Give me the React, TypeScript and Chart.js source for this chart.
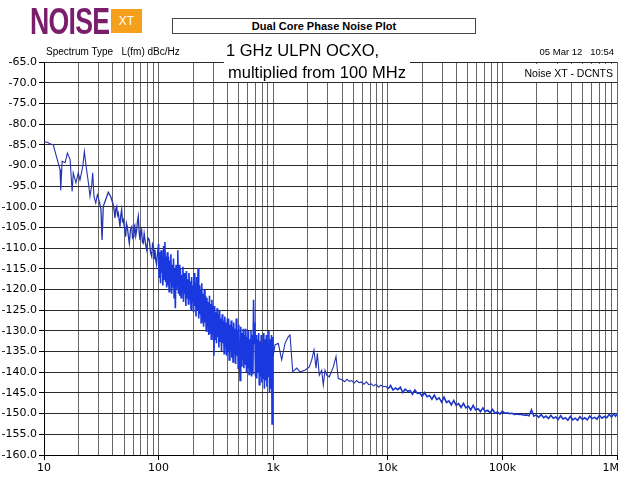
import React, { useEffect, useRef } from 'react';
import { Chart, registerables } from 'chart.js';

Chart.register(...registerables);

// ---- data (offset frequency in Hz, phase noise in dBc/Hz) ----
const lowFreq = [10, 10.7, 11.4, 12.05, 12.7, 13.3, 13.8, 14.0, 14.4, 15.3, 16.0, 16.9, 17.6, 18.0, 19.0, 19.9, 20.6, 21.8, 22.5, 23.3, 24.4, 25.2, 26.1, 26.6, 27.3, 28.3, 29.2, 30.4, 31.4, 32.1, 32.9, 34.5, 36.4, 38.2, 40.2, 41, 41.6, 42.3, 43.1, 43.8, 44.5, 45.2, 46.0, 46.8, 47.6, 48.4, 49.2, 50.3, 51.6, 52.4, 53.3, 54.4, 55.5, 56.8, 58.3, 59.2, 60.1, 61, 62, 63.2, 64.4, 65.4, 66.5, 67.6, 68.8, 70, 71, 72.2, 73.5, 74.8, 76, 77.3, 78.7, 80.8, 83.0, 85, 87.1, 88.5, 90, 91.5, 93, 94.5, 96, 98];
const lowPn = [-84.3, -84.4, -84.8, -85.0, -87.4, -89.4, -91.0, -96.0, -89.0, -89.3, -87.0, -88.6, -96.3, -91.8, -94.2, -91.8, -93.5, -90.2, -86.6, -90.2, -94.2, -97.5, -94.7, -91.8, -97.5, -99.1, -97.1, -98.7, -100.7, -108.0, -99.9, -98.3, -96.5, -97.5, -99.5, -101, -102.7, -100.5, -99.9, -102, -101.5, -103, -104.8, -102, -100.7, -103.5, -103.1, -105, -107.2, -104, -104.8, -107, -108.8, -105.5, -104.8, -107.5, -107.2, -105, -104.5, -107, -105.6, -103.5, -102.3, -106, -108, -106, -105.5, -108.5, -108.8, -106.5, -106.5, -109.5, -110.4, -107.5, -108, -111, -112, -109, -109.5, -112.5, -110.4, -113, -114, -111];

const denseFreq = [100, 101, 102.5, 104, 105, 106.5, 108, 109, 110.5, 112, 113.5, 115, 116, 117.5, 119,
  120.5, 122, 123.5, 125, 126.5, 128, 130, 131.5, 133, 135, 136.5, 138, 140, 142, 143.5, 145, 147, 149,
  151, 153, 155, 157, 159, 161, 163, 165, 167, 169, 171, 173, 175, 177, 180, 182, 184, 187, 189, 192, 194, 197, 199,
  202, 204, 207, 210, 212, 215, 218, 221, 224, 226, 229, 232, 235, 238, 241, 244, 247, 251,
  254, 257, 260, 264, 267, 270, 274, 278, 281, 285, 288, 292, 296, 300,
  304, 308, 312, 316, 320, 324, 328, 332, 336, 341, 345, 350, 354, 359, 363, 368, 373, 378, 383, 388, 393, 398,
  403, 408, 413, 419, 424, 430, 435, 441, 446, 452, 458, 464, 470, 476, 482, 489, 495, 501,
  508, 514, 521, 528, 534, 541, 548, 555, 562, 570, 577, 585, 592, 600, 608, 616, 624, 632, 640, 648, 657, 665, 674, 682, 691, 700,
  709, 718, 728, 737, 747, 756, 766, 776, 786, 796, 807, 817, 828, 838, 849, 860, 871, 882, 894, 905, 917, 929, 941, 953, 966, 978, 990, 1000];
const densePn = [-109, -117, -111, -118.5, -110.5, -116, -112, -119, -109.5, -117.5, -108.5, -118, -112, -119.5, -111,
  -119, -112, -120.5, -113, -118, -111.5, -121, -114, -119.5, -112.5, -122, -115, -124.5, -114, -120, -116, -110.5, -121,
  -114, -121.5, -115, -122, -116.5, -120.5, -114.5, -123, -116, -121, -117, -124, -115.5, -122, -117.5, -123.5, -116, -122.5, -118, -125, -117, -123, -119,
  -125.5, -116, -124, -118.5, -126.5, -117, -125, -114.8, -127, -119, -126, -120, -128, -118.5, -127.5, -121, -129, -120,
  -128, -121.5, -130, -122, -129, -123, -131, -121.5, -130.5, -123.5, -132, -122.5, -131, -124,
  -136, -124, -132, -125.5, -133, -124.5, -131.5, -126, -134, -125, -132.5, -127, -135, -126, -133, -127.5, -135.5, -126.5, -134, -128, -136, -127,
  -135, -127, -137, -128.5, -134.5, -127.5, -136.5, -129, -137.5, -128, -135.5, -129.5, -138, -127, -136, -130, -139, -128.5,
  -137, -142, -129, -138.5, -130.5, -137, -129.5, -139, -131, -138, -129.5, -140, -131.5, -139, -130, -140.5, -132, -139.5, -130, -141, -131, -140.5, -122.5, -133, -128, -141,
  -131, -141.5, -132, -140, -130.5, -143, -132.5, -141, -131, -142.5, -133, -141.5, -130.5, -144, -132, -142, -131, -143.5, -133, -141, -130, -145, -132, -144, -131, -152.5, -131.5, -136];

const midFreq = [1037, 1108, 1186, 1268, 1355, 1402, 1480, 1604, 1713, 1894, 2065, 2168, 2270, 2363, 2426, 2525, 2650, 2736, 2831, 2930, 3087, 3345, 3532, 3698];
const midPn = [-133.4, -133.0, -137.0, -133.0, -131.4, -131.0, -139.9, -139.0, -139.9, -139.5, -138.7, -137.0, -134.6, -139.0, -135.4, -140.7, -139.5, -143.1, -139.5, -140.7, -141.1, -138.7, -136.2, -141.5];

const highFreq = [4000, 4200, 4400, 4620, 4850, 5090, 5350, 5610, 5890, 6190, 6500, 6820, 7160, 7520, 7900, 8290, 8710, 9140, 9600, 10080, 10580, 11110, 11670, 12250, 12860, 13500, 14180, 14890, 15630, 16410, 17240, 18100, 19000, 19950, 20950, 22000, 23100, 24250, 25460, 26740, 28070, 29480, 30950, 32500, 34130, 35830, 37620, 39500, 41480, 43550, 45730, 48020, 50420, 52940, 55590, 58370, 61290, 64350, 67570, 70950, 74500, 78220, 82130, 86240, 90550, 95080, 99830, 104800, 110100, 115600, 121400, 127400, 133800, 140500, 147500, 154900, 162600, 170700, 179300, 188300, 197700, 207500, 217900, 228800, 240300, 252300, 264900, 278100, 292000, 306600, 322000, 338100, 355000, 372700, 391400, 411000, 431500, 453100, 475700, 499500, 524500, 550700, 578200, 607100, 637500, 669400, 702800, 738000, 774900, 813600, 854300, 897000, 941900, 970000, 1000000];
const highPn = [-141.8, -142.3, -141.7, -142.2, -142.0, -142.6, -142.0, -142.5, -142.4, -142.9, -142.3, -143.0, -142.8, -143.3, -142.9, -143.6, -143.1, -143.5, -143.4, -144.0, -143.2, -144.3, -143.8, -144.2, -143.6, -144.9, -144.1, -144.6, -144.4, -145.3, -144.3, -145.1, -145.0, -145.8, -144.9, -145.9, -145.6, -146.5, -145.5, -146.6, -146.2, -147.2, -146.0, -147.3, -146.9, -147.9, -146.8, -148.0, -147.6, -148.5, -147.5, -148.6, -148.2, -149.1, -148.0, -149.1, -148.8, -149.5, -148.6, -149.5, -149.2, -149.8, -149.0, -149.9, -149.6, -150.1, -149.4, -149.9, -149.8, -150.0, -149.9, -150.2, -150.1, -150.2, -150.2, -150.4, -150.3, -150.5, -149.1, -150.6, -150.3, -150.9, -150.2, -151.0, -150.6, -151.2, -150.4, -151.1, -150.8, -151.4, -150.5, -151.3, -151.0, -151.6, -150.7, -151.5, -151.1, -151.6, -150.7, -151.4, -151.0, -151.5, -150.6, -151.2, -150.9, -151.3, -150.4, -151.1, -150.7, -151.0, -150.2, -150.8, -150.0, -150.6, -150.2];

const decadeValues = [10, 100, 1000, 10000, 100000, 1000000];
const decadeLabels = ['10', '100', '1k', '10k', '100k', '1M'];
const yMin = -160;
const yMax = -65;
const yStep = 5;

const allFreq = [...lowFreq, ...denseFreq, ...midFreq, ...highFreq];
const allPn = [...lowPn, ...densePn, ...midPn, ...highPn];

const gridFreqs: number[] = [];
decadeValues.forEach((d, i) => {
  if (i === decadeValues.length - 1) { gridFreqs.push(d); return; }
  for (let m = 1; m <= 9; m++) gridFreqs.push(d * m);
});

const xLabelPlugin = {
  id: 'xLabels',
  afterDraw(chart: any) {
    const ctx = chart.ctx;
    const xs = chart.scales.x;
    ctx.save();
    ctx.font = '11px "DejaVu Sans"';
    ctx.fillStyle = '#000';
    ctx.textAlign = 'center';
    ctx.textBaseline = 'middle';
    decadeValues.forEach((v, i) => {
      const w = ctx.measureText(decadeLabels[i]).width;
      let px = xs.getPixelForValue(v);
      px = Math.min(px, chart.width - 2 - w / 2);
      ctx.fillText(decadeLabels[i], px, chart.chartArea.bottom + 13);
    });
    ctx.restore();
  },
};

const inDense = (x: number) => x >= 100 && x < 1000;

export default function App() {
  const ref = useRef<HTMLCanvasElement | null>(null);
  useEffect(() => {
    if (!ref.current) return;
    const chart = new Chart(ref.current, {
      type: 'line',
      data: {
        datasets: [
          {
            data: allFreq.map((f, i) => ({ x: f, y: allPn[i] })),
            borderColor: '#2433b0',
            borderWidth: 1.1,
            pointRadius: 0,
            tension: 0,
            fill: false,
            segment: {
              borderColor: (c: any) => (inDense(c.p0.parsed.x) ? '#1a38e0' : c.p0.parsed.x >= 10000 ? '#1c36c8' : '#2433b0'),
              borderWidth: (c: any) => (inDense(c.p0.parsed.x) ? 1.6 : c.p0.parsed.x >= 10000 ? 1.6 : c.p0.parsed.x >= 30 && c.p0.parsed.x < 100 ? 1.3 : 1.1),
            },
          },
        ],
      },
      options: {
        animation: false,
        responsive: false,
        events: [],
        layout: { padding: { top: 62, right: 4, left: 0, bottom: 0 } },
        plugins: { legend: { display: false }, tooltip: { enabled: false }, title: { display: false } },
        scales: {
          x: {
            type: 'logarithmic',
            min: 10,
            max: 1000000,
            afterBuildTicks: (scale: any) => {
              scale.ticks = gridFreqs.map((v) => ({ value: v }));
            },
            afterFit: (scale: any) => {
              scale.height = 22;
            },
            ticks: { display: false },
            grid: {
              color: '#666',
              lineWidth: 1,
              drawTicks: true,
              tickLength: 5,
              tickColor: (c: any) => (c.tick && decadeValues.includes(c.tick.value) ? '#000' : 'rgba(0,0,0,0)'),
            },
            border: { display: true, color: '#000' },
          },
          y: {
            min: yMin,
            max: yMax,
            afterFit: (scale: any) => {
              scale.width = 44;
            },
            ticks: {
              stepSize: yStep,
              autoSkip: false,
              callback: (v: any) => Number(v).toFixed(1),
              color: '#000',
              font: { size: 11, family: 'DejaVu Sans' },
              padding: 2,
            },
            grid: { color: '#2a2a2a', lineWidth: 1, tickLength: 5, tickColor: '#000' },
            border: { display: true, color: '#000' },
          },
        },
      },
      plugins: [xLabelPlugin],
    } as any);
    return () => chart.destroy();
  }, []);

  const sans = '"Liberation Sans", Arial, sans-serif';
  return (
    <div style={{ position: 'absolute', left: 0, top: 0, width: 621, height: 477, background: '#fff', overflow: 'hidden' }}>
      <canvas ref={ref} width={621} height={477} style={{ display: 'block', position: 'absolute', left: 0, top: 0 }} />
      {/* logo */}
      <div style={{ position: 'absolute', left: 30, top: 4, fontFamily: sans, fontWeight: 'bold', fontSize: 36, lineHeight: '36px', color: '#7a1e6c', transform: 'scaleX(0.74)', transformOrigin: 'left top', whiteSpace: 'pre', letterSpacing: -1 }}>NOISE</div>
      <div style={{ position: 'absolute', left: 111, top: 9, width: 31, height: 24, background: '#f4a01c', color: '#fff', fontFamily: sans, fontSize: 12, lineHeight: '24px', textAlign: 'center' }}>XT</div>
      {/* title box */}
      <div style={{ position: 'absolute', left: 172, top: 18, width: 304, height: 16, boxSizing: 'border-box', border: '1px solid #444', background: '#fff', fontFamily: sans, fontWeight: 'bold', fontSize: 11, lineHeight: '14px', textAlign: 'center', color: '#000' }}>Dual Core Phase Noise Plot</div>
      <div style={{ position: 'absolute', left: 46, top: 47, fontFamily: sans, fontSize: 10, lineHeight: '10px', whiteSpace: 'pre', color: '#000' }}>{'Spectrum Type   L(fm) dBc/Hz'}</div>
      <div style={{ position: 'absolute', right: 7, top: 47, fontFamily: sans, fontSize: 9.5, lineHeight: '10px', whiteSpace: 'pre', color: '#000' }}>{'05 Mar 12   10:54'}</div>
      {/* annotation */}
      <div style={{ position: 'absolute', left: 224, top: 37, width: 186, height: 45, background: '#fff' }} />
      <div style={{ position: 'absolute', left: 226, top: 42, fontFamily: sans, fontSize: 16.5, lineHeight: '16.5px', whiteSpace: 'pre', color: '#000' }}>1 GHz ULPN OCXO,</div>
      <div style={{ position: 'absolute', left: 228, top: 64, fontFamily: sans, fontSize: 16.5, lineHeight: '16.5px', whiteSpace: 'pre', color: '#000' }}>multiplied from 100 MHz</div>
      <div style={{ position: 'absolute', left: 522, top: 64, width: 94, height: 18, background: '#fff' }} />
      <div style={{ position: 'absolute', right: 8, top: 68, fontFamily: sans, fontSize: 10.5, lineHeight: '10.5px', whiteSpace: 'pre', color: '#000' }}>Noise XT - DCNTS</div>
    </div>
  );
}
